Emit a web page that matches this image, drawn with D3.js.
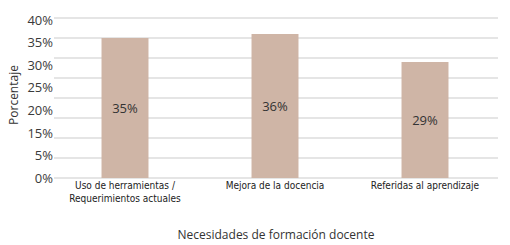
<!DOCTYPE html>
<html>
<head>
<meta charset="utf-8">
<script src="https://cdn.jsdelivr.net/npm/d3@7"></script>
<style>
  body { margin: 0; background: #fff; }
  svg { display: block; }
</style>
</head>
<body>
<div id="chart"></div>
<script>
"use strict";

// == DATA ==
var categories = ["Uso de herramientas /\nRequerimientos actuales", "Mejora de la docencia", "Referidas al aprendizaje"];
var values = [35, 36, 29];
var tickLabels = ["0%", "5%", "15%", "20%", "25%", "30%", "35%", "40%"];
var gridValues = [0, 5, 10, 15, 20, 25, 30, 35, 40];

// == BOILERPLATE ==
var width = 510, height = 245;
var plot = { top: 18, bottom: 178, left: 54, right: 498 };

var svg = d3.select("#chart")
  .append("svg")
  .attr("width", width)
  .attr("height", height);

var x = d3.scaleBand()
  .domain(categories)
  .range([50, 500])
  .paddingInner(0.687)
  .paddingOuter(0.3435);

var y = d3.scaleLinear()
  .domain([0, 40])
  .range([plot.bottom, plot.top]);

// tick labels sit evenly over the axis height (as in the original)
var labelScale = d3.scalePoint()
  .domain(tickLabels)
  .range([plot.bottom, plot.top + 2]);

// gridlines
svg.append("g")
  .selectAll("line")
  .data(gridValues)
  .enter()
  .append("line")
  .attr("x1", plot.left)
  .attr("x2", plot.right)
  .attr("y1", function (d) { return y(d); })
  .attr("y2", function (d) { return y(d); })
  .attr("stroke", "#dcdcdc")
  .attr("stroke-width", 1.3);

// y labels
var yAxis = svg.append("g")
  .attr("transform", "translate(" + (plot.left - 1) + ",0)")
  .call(d3.axisLeft(labelScale).tickSize(0).tickPadding(0));
yAxis.select(".domain").remove();
yAxis.selectAll("text")
  .attr("fill", "#3a3a3a")
  .style("font-family", "'Open Sans', sans-serif")
  .style("font-size", "13px");

// bars
svg.selectAll("rect.bar")
  .data(values)
  .enter()
  .append("rect")
  .attr("class", "bar")
  .attr("x", function (d, i) { return x(categories[i]); })
  .attr("y", function (d) { return y(d); })
  .attr("width", x.bandwidth())
  .attr("height", function (d) { return y(0) - y(d); })
  .attr("fill", "#cfb5a6");

// value labels
svg.selectAll("text.val")
  .data(values)
  .enter()
  .append("text")
  .attr("class", "val")
  .attr("x", function (d, i) { return x(categories[i]) + x.bandwidth() / 2; })
  .attr("y", function (d) { return (y(d) + y(0)) / 2; })
  .attr("dy", "0.35em")
  .attr("text-anchor", "middle")
  .attr("fill", "#333")
  .style("font-family", "'Open Sans', sans-serif")
  .style("font-size", "13px")
  .text(function (d) { return d + "%"; });

// category labels
var xAxis = svg.append("g")
  .attr("transform", "translate(0," + plot.bottom + ")")
  .call(d3.axisBottom(x).tickSize(0).tickPadding(0));
xAxis.select(".domain").remove();
xAxis.selectAll("text")
  .attr("dy", null)
  .attr("y", null)
  .attr("fill", "#222")
  .style("font-family", "'DejaVu Sans Condensed', 'DejaVu Sans', sans-serif")
  .style("font-stretch", "condensed")
  .style("font-size", "10px")
  .each(function (d) {
    var t = d3.select(this).text("");
    d.split("\n").forEach(function (line, i) {
      t.append("tspan")
        .attr("x", 0)
        .attr("y", 11 + i * 13)
        .text(line);
    });
  });

// axis titles
svg.append("text")
  .attr("x", 276)
  .attr("y", 239)
  .attr("text-anchor", "middle")
  .attr("fill", "#333")
  .style("font-family", "'Open Sans', sans-serif")
  .style("font-size", "12px")
  .text("Necesidades de formación docente");

svg.append("text")
  .attr("transform", "translate(18,95) rotate(-90)")
  .attr("text-anchor", "middle")
  .attr("fill", "#333")
  .style("font-family", "'Open Sans', sans-serif")
  .style("font-size", "12px")
  .text("Porcentaje");
</script>
</body>
</html>
